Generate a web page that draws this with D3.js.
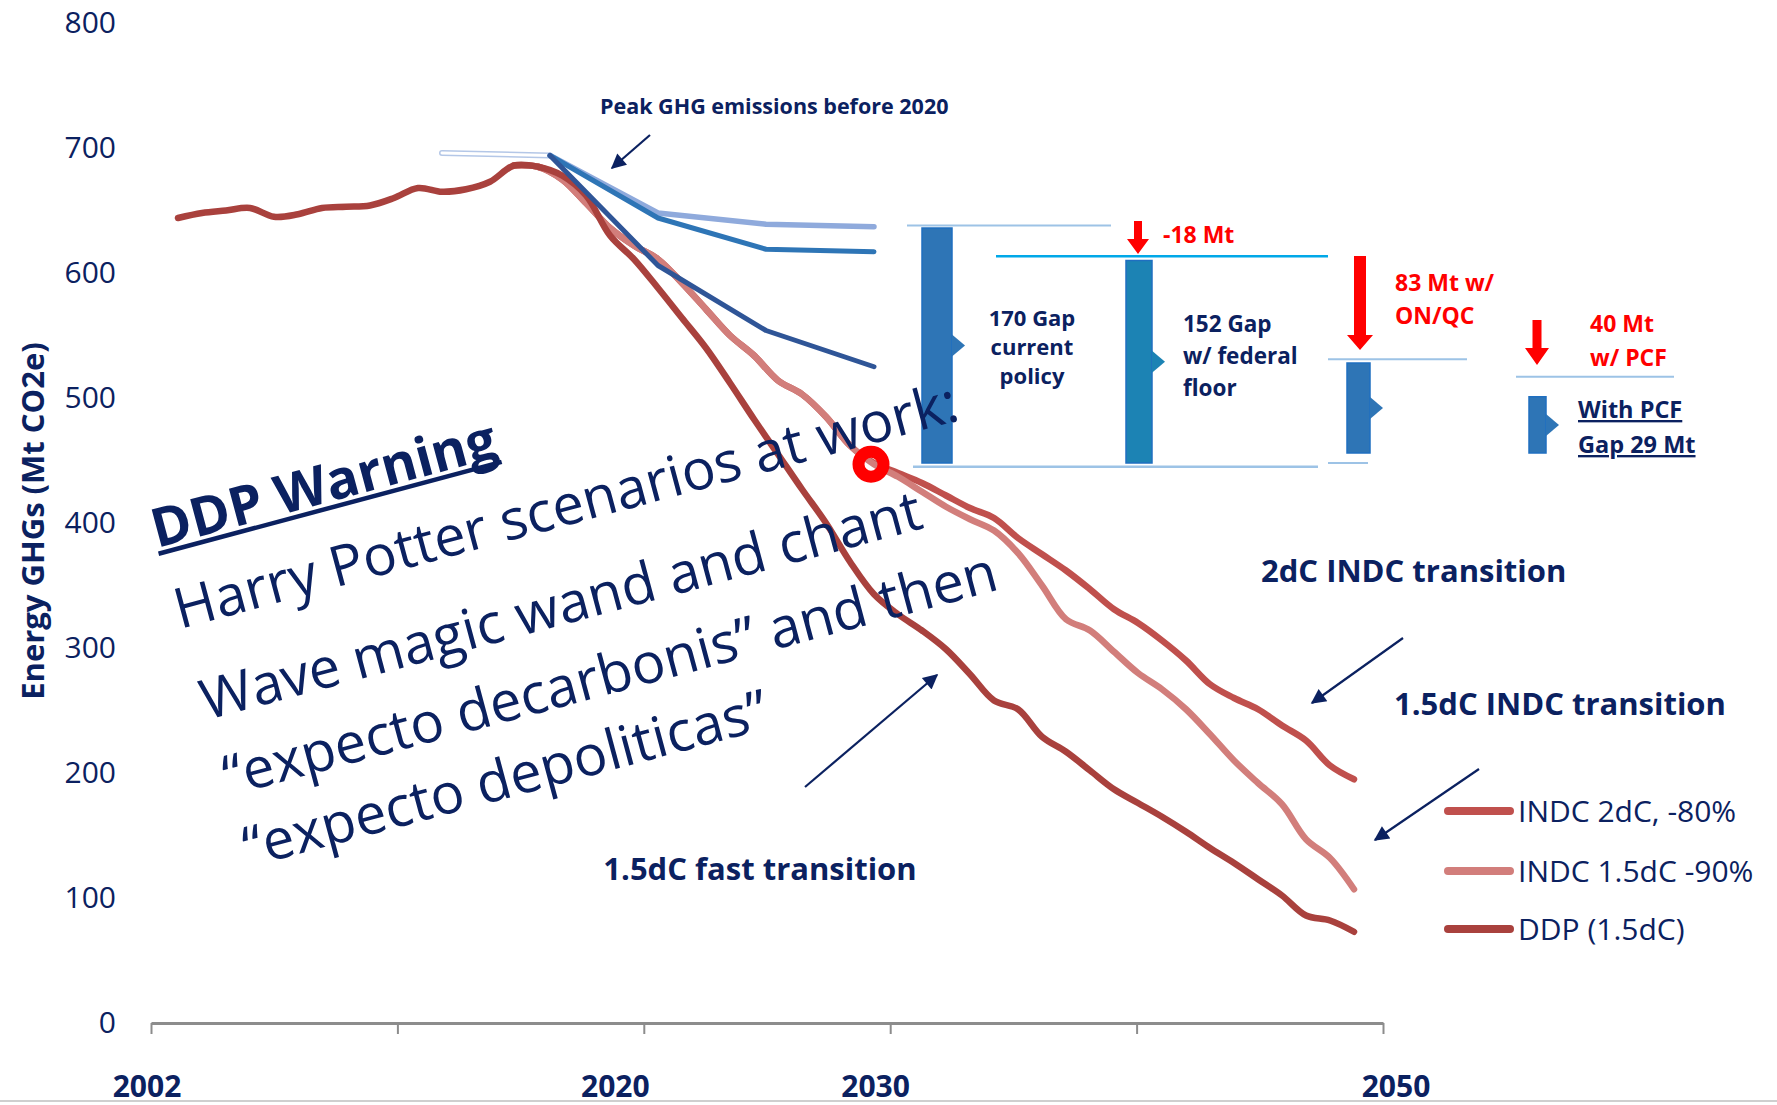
<!DOCTYPE html>
<html>
<head>
<meta charset="utf-8">
<title>Energy GHGs - DDP warning</title>
<script src="https://cdnjs.cloudflare.com/ajax/libs/d3/7.8.5/d3.min.js"></script>
<style>
  html, body { margin: 0; padding: 0; background: #fff; }
  svg { display: block; font-family: 'Open Sans', sans-serif; }
  .ytick text { font-size: 30px; fill: #0b2160; }
  .xlab { font-size: 30px; font-weight: 700; fill: #0b2160; }
</style>
</head>
<body>
<div id="chart"></div>
<script>
// ---- data ----
const ddpYears = d3.range(2001, 2051);
const ddpValues = [644, 648, 650, 652, 645, 647, 652, 653, 654, 660,
                   668, 665, 667, 673, 686, 685, 678, 662, 630, 611,
                   588, 564, 540, 512, 483, 455, 427, 400, 369, 343,
                   327, 314, 299, 279, 258, 251, 229, 217, 202, 187,
                   176, 165, 153, 140, 128, 115, 102, 86, 82, 73];

const indcYears = d3.range(2015, 2051);
const indc15Values = [686, 685, 675, 656, 636, 622, 611, 592, 571, 550,
                      534, 514, 503, 485, 462, 447, 437, 425, 413, 403,
                      394, 376, 350, 323, 314, 297, 280, 267, 251, 231,
                      210, 192, 175, 147, 132, 107];
const indc2Values = [686, 685, 675, 656, 636, 622, 611, 592, 571, 550,
                     534, 514, 503, 485, 462, 448, 440, 432, 422, 412,
                     404, 388, 375, 362, 347, 331, 320, 306, 290, 271,
                     260, 251, 238, 226, 206, 195];

const policyYears = [2016.5, 2021, 2025.5, 2030];
const policyLight = [694, 648, 639, 637];
const policyMid = [694, 644, 619, 617];
const policyDark = [694, 606, 554, 525];
const peakRefYears = [2012, 2016.5];
const peakRefValues = [696, 694];

const yTicks = [0, 100, 200, 300, 400, 500, 600, 700, 800];
const xTickLabels = ["2002", "2020", "2030", "2050"];

// gap bars (values in Mt) at the 2030 comparison
const gapTop = [636, 610, 528, 501];
const gapBottom = [448, 448, 456, 456];

const legendNames = ["INDC 2dC, -80%", "INDC 1.5dC -90%", "DDP (1.5dC)"];

// ---- layout ----
const W = 1777, H = 1105;
const navy = "#0b2160";
const cRed2 = "#c0504d", cRed15 = "#d27e7b", cDDP = "#a9413d";
const cBlueLight = "#8faadc", cBlueMid = "#2e75b6", cBlueDark = "#2f5597";

const svg = d3.select("#chart").append("svg")
  .attr("width", W).attr("height", H);
svg.append("rect").attr("width", W).attr("height", H).attr("fill", "#fff");

const defs = svg.append("defs");
defs.append("marker")
  .attr("id", "ah").attr("viewBox", "0 0 10 10")
  .attr("refX", 9).attr("refY", 5)
  .attr("markerWidth", 17).attr("markerHeight", 15)
  .attr("markerUnits", "userSpaceOnUse")
  .attr("orient", "auto")
  .append("path").attr("d", "M0,0 L10,5 L0,10 z").attr("fill", navy);

const x = d3.scaleLinear().domain([2001, 2050]).range([178, 1354]);
const y = d3.scaleLinear().domain([0, 800]).range([1023, 23]);

// y axis (labels only)
const yAxis = svg.append("g")
  .attr("class", "ytick")
  .attr("transform", "translate(116,0)")
  .call(d3.axisLeft(y).tickValues(yTicks).tickSize(0).tickPadding(0));
yAxis.select(".domain").remove();
yAxis.selectAll("text").attr("font-family", "'Open Sans', sans-serif");

svg.append("text")
  .attr("transform", "translate(44,521) rotate(-90)")
  .attr("text-anchor", "middle")
  .attr("font-size", 31).attr("font-weight", 700).attr("fill", navy)
  .text("Energy GHGs (Mt CO2e)");

// x axis: six evenly spaced ticks
const xAxisScale = d3.scaleLinear().domain([0, 5]).range([151, 1383]);
const xAxis = svg.append("g")
  .attr("transform", "translate(0,1023)")
  .call(d3.axisBottom(xAxisScale).ticks(5).tickSizeInner(11).tickSizeOuter(0).tickFormat(""));
xAxis.select(".domain").attr("stroke", "#8c8c8c").attr("stroke-width", 3);
xAxis.selectAll(".tick line").attr("stroke", "#8c8c8c").attr("stroke-width", 2);

const labelScale = d3.scaleLinear().domain([2002, 2050]).range([147, 1396]);
svg.selectAll(".xlab").data(xTickLabels).enter().append("text")
  .attr("class", "xlab")
  .attr("x", d => labelScale(+d)).attr("y", 1097)
  .attr("text-anchor", "middle")
  .text(d => d);

// slide edge
svg.append("line").attr("x1", 0).attr("x2", W).attr("y1", 1101).attr("y2", 1101)
  .attr("stroke", "#cfcfcf").attr("stroke-width", 2);

// ---- lines ----
const smooth = d3.line().x(d => x(d[0])).y(d => y(d[1])).curve(d3.curveCatmullRom.alpha(0.5));
const straight = d3.line().x(d => x(d[0])).y(d => y(d[1]));

const zip = (xs, vs) => xs.map((v, i) => [v, vs[i]]);

function drawLine(gen, pts, color, w) {
  svg.append("path").datum(pts)
    .attr("d", gen).attr("fill", "none")
    .attr("stroke", color).attr("stroke-width", w)
    .attr("stroke-linecap", "round").attr("stroke-linejoin", "round");
}

drawLine(smooth, zip(indcYears, indc2Values), cRed2, 6.5);
drawLine(smooth, zip(indcYears, indc15Values), cRed15, 6.5);
drawLine(smooth, zip(ddpYears, ddpValues), cDDP, 6.5);

drawLine(straight, zip(peakRefYears, peakRefValues), "#b4c7e7", 6);
drawLine(straight, zip(peakRefYears, peakRefValues), "#ffffff", 3);
drawLine(straight, zip(policyYears, policyLight), cBlueLight, 5.5);
drawLine(straight, zip(policyYears, policyMid), cBlueMid, 5);
drawLine(straight, zip(policyYears, policyDark), cBlueDark, 5);

// red ring at the 2030 INDC point
svg.append("circle")
  .attr("cx", x(2030) - 3).attr("cy", y(indc15Values[indcYears.indexOf(2030)]))
  .attr("r", 12.5).attr("fill", "none")
  .attr("stroke", "#ff0000").attr("stroke-width", 12);

// ---- gap diagram ----
const barX = [922, 1126, 1347, 1529];
const barW = [30, 26, 23, 17];
const barFill = ["#2e75b6", "#1c83b4", "#2e75b6", "#2e75b6"];
gapTop.forEach((t, i) => {
  const y0 = y(t), y1 = y(gapBottom[i]);
  svg.append("rect")
    .attr("x", barX[i]).attr("y", y0).attr("width", barW[i]).attr("height", y1 - y0)
    .attr("fill", barFill[i]).attr("stroke", "#1f6fc0").attr("stroke-width", 1.5);
  const ym = (y0 + y1) / 2, xr = barX[i] + barW[i];
  svg.append("path")
    .attr("d", `M${xr},${ym - 11} L${xr + 13},${ym} L${xr},${ym + 11} Z`)
    .attr("fill", barFill[i]);
});

function guide(x1, x2, v, color, w) {
  svg.append("line").attr("x1", x1).attr("x2", x2)
    .attr("y1", y(v)).attr("y2", y(v))
    .attr("stroke", color).attr("stroke-width", w);
}
guide(907, 1111, 638, "#9dc3e6", 2);
guide(996, 1328, 613.5, "#00a8e8", 2.5);
guide(1328, 1467, 531, "#9dc3e6", 2);
guide(1516, 1674, 517, "#9dc3e6", 2);
guide(913, 1318, 445, "#9dc3e6", 2.5);
guide(1328, 1368, 448, "#9dc3e6", 2);

function downArrow(cx, y0, y1, shaftW, headW, headH) {
  const yh = y1 - headH;
  svg.append("path")
    .attr("d", `M${cx - shaftW / 2},${y0} L${cx + shaftW / 2},${y0} L${cx + shaftW / 2},${yh}
      L${cx + headW / 2},${yh} L${cx},${y1} L${cx - headW / 2},${yh} L${cx - shaftW / 2},${yh} Z`)
    .attr("fill", "#ff0000");
}
downArrow(1138, 221, 254, 8, 22, 15);
downArrow(1360, 256, 350, 12, 26, 15);
downArrow(1537, 320, 365, 9, 24, 17);

function textLines(lines, x0, y0, dy, opts) {
  const t = svg.append("text")
    .attr("font-size", opts.size).attr("font-weight", opts.weight || 700)
    .attr("fill", opts.color || navy)
    .attr("text-anchor", opts.anchor || "start");
  lines.forEach((s, i) => {
    t.append("tspan").attr("x", x0).attr("y", y0 + i * dy).text(s);
  });
  return t;
}
textLines(["170 Gap", "current", "policy"], 1032, 326, 29, { size: 22, anchor: "middle" });
textLines(["152 Gap", "w/ federal", "floor"], 1183, 332, 32, { size: 22.5 });
textLines(["-18 Mt"], 1163, 243, 0, { size: 23, color: "#ff0000" });
textLines(["83 Mt w/", "ON/QC"], 1395, 291, 33, { size: 23, color: "#ff0000" });
textLines(["40 Mt", "w/ PCF"], 1590, 332, 34, { size: 23, color: "#ff0000" });
textLines(["With PCF", "Gap 29 Mt"], 1578, 418, 35, { size: 23.5 })
  .attr("text-decoration", "underline");

// ---- annotations ----
textLines(["Peak GHG emissions before 2020"], 600, 114, 0, { size: 21.5 });
textLines(["2dC INDC transition"], 1261, 582, 0, { size: 31 });
textLines(["1.5dC INDC transition"], 1394, 715, 0, { size: 31 });
textLines(["1.5dC fast transition"], 760, 880, 0, { size: 31, anchor: "middle" });

function arrow(x1, y1, x2, y2) {
  svg.append("line")
    .attr("x1", x1).attr("y1", y1).attr("x2", x2).attr("y2", y2)
    .attr("stroke", navy).attr("stroke-width", 2.2)
    .attr("marker-end", "url(#ah)");
}
arrow(650, 135, 612, 168);
arrow(805, 787, 937, 675);
arrow(1403, 638, 1312, 703);
arrow(1479, 769, 1375, 840);

// rotated warning text
const warn = svg.append("g").attr("transform", "translate(157,548) rotate(-15)");
const warnText = warn.append("text")
  .attr("font-size", 54).attr("font-weight", 700).attr("fill", navy)
  .text("DDP Warning");
warn.append("line")
  .attr("x1", 0).attr("x2", warnText.node().getComputedTextLength())
  .attr("y1", 6).attr("y2", 6)
  .attr("stroke", navy).attr("stroke-width", 4.5);

const spell = svg.append("g").attr("transform", "translate(180,629) rotate(-15)");
const spellLines = ["Harry Potter scenarios at work:",
  "Wave magic wand and chant",
  "\u201Cexpecto decarbonis\u201D  and then",
  "\u201Cexpecto depoliticas\u201D"];
const spellDx = [0, 2, 4, 5];
const spellDy = [0, 95, 174, 248];
const spellText = spell.append("text")
  .attr("font-size", 56).attr("fill", navy);
spellLines.forEach((s, i) => {
  spellText.append("tspan").attr("x", spellDx[i]).attr("y", spellDy[i]).text(s);
});

// ---- legend ----
const legendColors = [cRed2, cRed15, cDDP];
const legendY = [811, 871, 929];
legendNames.forEach((name, i) => {
  svg.append("line")
    .attr("x1", 1448).attr("x2", 1510)
    .attr("y1", legendY[i]).attr("y2", legendY[i])
    .attr("stroke", legendColors[i]).attr("stroke-width", 8)
    .attr("stroke-linecap", "round");
  svg.append("text")
    .attr("x", 1518).attr("y", legendY[i]).attr("dy", "0.35em")
    .attr("font-size", 30).attr("fill", navy)
    .text(name);
});
</script>
</body>
</html>
